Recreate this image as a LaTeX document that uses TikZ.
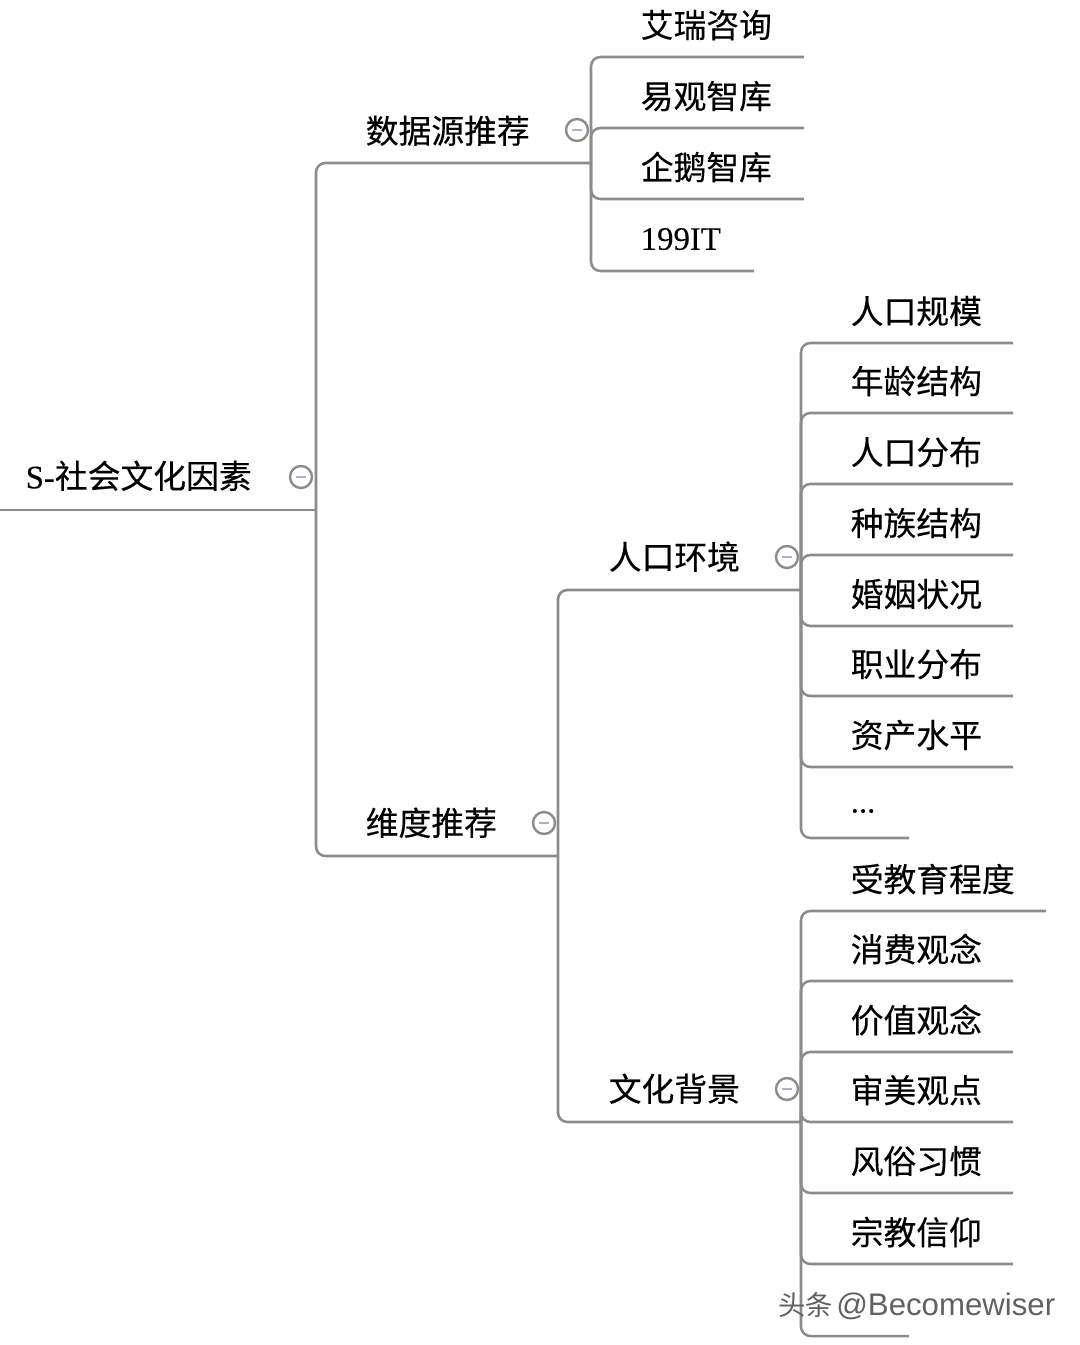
\documentclass[tikz,border=0pt]{standalone}
\usepackage{fontspec}
\setmainfont[FakeBold=0.15]{Liberation Serif}
\setsansfont{Liberation Sans}
\newfontfamily\cjk[FakeBold=0.25]{Noto Sans CJK SC}
\newfontfamily\markcjk{Noto Sans CJK SC}
\definecolor{branchgray}{HTML}{8C8C8C}
\definecolor{foldblue}{HTML}{A9B1CC}
\usetikzlibrary{positioning}

\tikzset{
    topic/.style={anchor=south east, inner sep=0pt, align=left, font=\cjk\fontsize{24.6}{28}\selectfont},
    branch/.style={draw=branchgray, line width=1.9pt, rounded corners=7pt},
    fold/.style={circle, draw=branchgray, line width=1.8pt, fill=white, inner sep=0pt, minimum size=16.5pt,
        path picture={\draw[foldblue, line width=1.3pt] ([xshift=-4pt]path picture bounding box.center) -- ([xshift=4pt]path picture bounding box.center);}},
}

\begin{document}
\begin{tikzpicture}[x=0.75pt,y=-0.75pt]
    \useasboundingbox (0,0) rectangle (1080,1345);

    % main branches
    \coordinate (rootstart) at (0,510);
    \node[topic, text width=217.5pt, minimum height=51pt] (root) at (316,510) {{\rmfamily S-}社会文化因素};
    \node[topic, text width=168.75pt, minimum height=48pt] (src) at (591,163) {数据源推荐};
    \node[topic, text width=144pt, minimum height=49.5pt] (dim) at (558,856) {维度推荐};
    \node[topic, text width=144pt, minimum height=49.5pt] (pop) at (801,590) {人口环境};
    \node[topic, text width=144pt, minimum height=49.5pt] (cul) at (801,1122) {文化背景};

    \draw[branch] (rootstart) -- (root.south east);
    \draw[branch] (root.south east) |- (src.south east);
    \draw[branch] (root.south east) |- (dim.south east);
    \draw[branch] (dim.south east) |- (pop.south east);
    \draw[branch] (dim.south east) |- (cul.south east);

    % leaves
    \foreach \name/\yline/\xend/\txt in {
        src1/57/804/艾瑞咨询, src2/128/804/易观智库, src3/199/804/企鹅智库, src4/271/754/{\rmfamily 199IT}} {
        \pgfmathsetmacro\boxw{(\xend-641)*0.75}
        \node[topic, text width=\boxw pt, minimum height=47.5pt] (\name) at (\xend,\yline) {\txt};
        \draw[branch] (src.south east) |- (\name.south east);
    }
    \foreach \name/\yline/\xend/\txt in {
        pop1/343/1013/人口规模, pop2/413/1013/年龄结构, pop3/484/1013/人口分布, pop4/555/1013/种族结构,
        pop5/626/1013/婚姻状况, pop6/696/1013/职业分布, pop7/767/1013/资产水平, pop8/838/909/{\rmfamily\raisebox{-10pt}{...}}} {
        \pgfmathsetmacro\boxw{(\xend-851)*0.75}
        \node[topic, text width=\boxw pt, minimum height=47.5pt] (\name) at (\xend,\yline) {\txt};
        \draw[branch] (pop.south east) |- (\name.south east);
    }
    \foreach \name/\yline/\xend/\txt in {
        cul1/911/1046/受教育程度, cul2/981/1013/消费观念, cul3/1052/1013/价值观念, cul4/1122/1013/审美观点,
        cul5/1193/1013/风俗习惯, cul6/1264/1013/宗教信仰, cul7/1336/909/{}} {
        \pgfmathsetmacro\boxw{(\xend-851)*0.75}
        \node[topic, text width=\boxw pt, minimum height=47.5pt] (\name) at (\xend,\yline) {\txt};
        \draw[branch] (cul.south east) |- (\name.south east);
    }

    % fold marks
    \node[fold] (foldroot) at (301,477) {};
    \node[fold] (foldsrc) at (577,130) {};
    \node[fold] (folddim) at (544,823) {};
    \node[fold] (foldpop) at (787,557) {};
    \node[fold] (foldcul) at (787,1089) {};

    \node[anchor=west, inner sep=0pt, text=black!62] (mark) at (778,1306) {{\markcjk\fontsize{20.5}{24}\selectfont 头条} {\sffamily\fontsize{23.4}{24}\selectfont @Becomewiser}};
\end{tikzpicture}
\end{document}
